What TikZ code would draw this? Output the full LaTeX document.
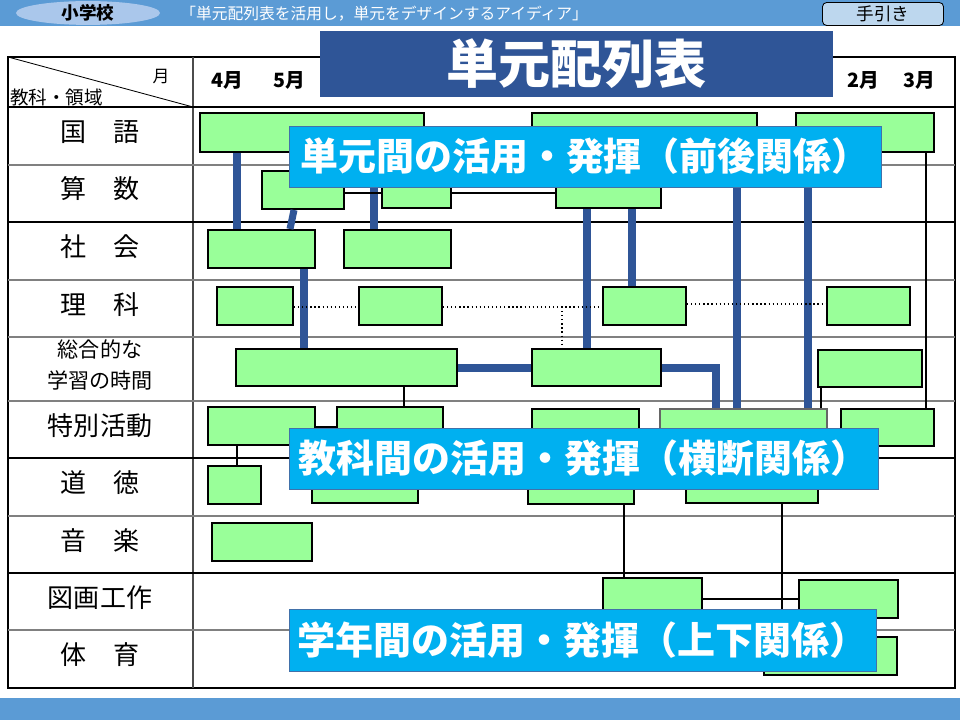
\documentclass[tikz,border=0pt]{standalone}
\usepackage{fontspec}
\setmainfont{Noto Sans CJK JP}
\usetikzlibrary{fit,shapes.geometric}

\definecolor{hdrblue}{RGB}{91,155,213}
\definecolor{ovalblue}{RGB}{170,199,235}
\definecolor{btnblue}{RGB}{189,215,238}
\definecolor{titleblue}{RGB}{47,85,151}
\definecolor{bannercyan}{RGB}{0,176,240}
\definecolor{bannerrim}{RGB}{65,113,170}
\definecolor{unitgreen}{RGB}{153,255,153}
\definecolor{gridgray}{RGB}{128,128,128}

\newcommand{\fsz}[1]{\fontsize{#1}{#1}\selectfont}

\begin{document}
\begin{tikzpicture}[
    x=0.025cm, y=-0.025cm,
    unit/.style={draw=black, line width=1.4pt, fill=unitgreen, inner sep=0pt},
    unitthin/.style={draw=black!60, line width=0.8pt, fill=unitgreen, inner sep=0pt},
    rowlab/.style={font=\fsz{18.5}, inner sep=0pt, align=center},
    month/.style={font=\fsz{14}\bfseries, inner sep=0pt},
    banner/.style={draw=bannerrim, line width=0.6pt, fill=bannercyan, text=white,
        inner sep=0pt, font=\fsz{27}\bfseries},
    blink/.style={draw=titleblue, line width=5pt},
    klink/.style={draw=black, line width=1.2pt},
    dlink/.style={draw=black, line width=0.9pt, dotted}
]
\useasboundingbox (0,0) rectangle (960,720);

%% ══════════════════════════════ HEADER ══════════════════════════════
\fill[hdrblue] (0,0) rectangle (960,26);
\fill[hdrblue] (0,698) rectangle (960,720);

\node[ellipse, fill=ovalblue, minimum width=3.6cm, minimum height=0.55cm,
      inner sep=0pt, font=\fsz{12.5}\bfseries] (school) at (88,13) {小学校};
\node[anchor=west, text=white, inner sep=0pt, font=\fsz{11.2}] (theme) at (180,14)
    {「単元配列表を活用し，単元をデザインするアイディア」};
\node[draw=black, fill=btnblue, rounded corners=3pt, line width=0.6pt,
      minimum width=3.025cm, minimum height=0.575cm, inner sep=0pt,
      font=\fsz{12.5}] (guide) at (883,14) {手引き};

%% ══════════════════════════════ TABLE ══════════════════════════════
\draw[black, line width=0.8pt] (8,57) rectangle (955,688);
\draw[black!70, line width=0.8pt] (193,57) -- (193,688);
\draw[black, line width=0.6pt] (8,57) -- (193,107);
\foreach \y/\c in {107/black, 165/gridgray, 222/black, 280/gridgray, 337/gridgray,
                   401/gridgray, 458/black, 516/gridgray, 573/black, 630/gridgray}
    \draw[draw=\c, line width=0.8pt] (8,\y) -- (955,\y);

\node[inner sep=0pt, font=\fsz{12}] (hmonth) at (161,77) {月};
\node[anchor=west, inner sep=0pt, font=\fsz{13.2}] (hsubj) at (10,97) {教科・領域};

\node[month] (m4) at (227,80) {4月};
\node[month] (m5) at (289,80) {5月};
\node[month] (m2) at (863,80) {2月};
\node[month] (m3) at (919,80) {3月};

%% Subject labels
\foreach \y/\t [count=\i] in {132/国　語, 189/算　数, 247/社　会, 305/理　科,
        426/特別活動, 483/道　徳, 541/音　楽, 598/図画工作, 655/体　育}
    \node[rowlab] (lab\i) at (100,\y) {\t};
\node[rowlab, font=\fontsize{15}{22}\selectfont] (labsogo) at (100,365)
    {総合的な\\学習の時間};

%% ══════════════════════════════ UNITS ══════════════════════════════
\foreach \n/\xa/\ya/\xb/\yb in {
        kok1/200/113/424/152, kok2/532/113/757/152, kok3/796/113/934/152,
        san1/262/171/344/209, san2/382/170/451/208, san3/556/170/661/208,
        sha1/208/230/315/268, sha2/344/230/451/268,
        rik1/217/287/293/325, rik2/359/287/442/325, rik3/603/287/686/325,
        rik4/827/287/910/325,
        sog1/236/349/457/386, sog2/532/349/661/386, sog3/818/350/922/387,
        tok1/208/407/315/445, tok2/337/407/443/445, tok3/532/409/639/446,
        tok5/841/409/934/446,
        dot1/208/466/261/504, dot2/312/466/418/503, dot3/528/466/634/504,
        dot4/686/466/818/503,
        ong1/212/523/312/561,
        zuk1/603/578/702/616, zuk2/799/580/898/618,
        tai1/764/637/897/675}
    \node[unit, fit={(\xa,\ya) (\xb,\yb)}] (\n) {};
\node[unitthin, fit={(660,409) (827,446)}] (tok4) {};

%% Thick links: within a subject, across the year
\draw[blink] (kok1.south -| 237,0) -- (sha1.north -| 237,0);
\draw[blink] (san1.south -| 294,0) -- (sha1.north -| 290,0);
\draw[blink] (kok1.south -| 374,0) -- (sha2.north -| 374,0);
\draw[blink] (sha1.south -| 304,0) -- (sog1.north -| 304,0);
\draw[blink] (san3.south -| 587,0) -- (sog2.north -| 587,0);
\draw[blink] (san3.south -| 632,0) -- (rik3.north -| 632,0);
\draw[blink] (kok2.south -| 737,0) -- (tok4.north -| 737,0);
\draw[blink] (kok3.south -| 808,0) -- (tok4.north -| 808,0);
\draw[blink] (sog1.east |- 0,368) -- (sog2.west |- 0,368);
\draw[blink] (sog2.east |- 0,368) -| (tok4.north -| 716,0);

%% Thin links
\draw[klink] (san1.east |- 0,193) -- (san2.west |- 0,193);
\draw[klink] (san2.east |- 0,193) -- (san3.west |- 0,193);
\draw[klink] (kok3.south -| 926,0) -- (tok5.north -| 926,0);
\draw[klink] (sog3.south -| 821,0) -- (tok4.north -| 821,0);
\draw[klink] (sog1.south -| 404,0) -- (tok2.north -| 404,0);
\draw[klink] (tok1.south -| 237,0) -- (dot1.north -| 237,0);
\draw[klink] (tok1.east |- 0,427) -- (tok2.west |- 0,427);
\draw[klink] (dot3.south -| 624,0) -- (zuk1.north -| 624,0);
\draw[klink] (dot4.south -| 782,0) -- (tai1.north -| 782,0);
\draw[klink] (zuk1.east |- 0,599) -- (zuk2.west |- 0,599);

%% Dotted links (理科)
\coordinate (rikjoin) at (562,307);
\draw[dlink] (rik1.east |- 0,307) -- (rik2.west |- 0,307);
\draw[dlink] (rik2.east |- 0,307) -- (rik3.west |- 0,307);
\draw[dlink] (rikjoin) -- (sog2.north -| rikjoin);
\draw[dlink] (rik3.east |- 0,304) -- (rik4.west |- 0,304);

%% ══════════════════════════════ TITLE + BANNERS ══════════════════════════════
\node[fill=titleblue, text=white, inner sep=0pt, fit={(320,31) (833,97)}] (titlebox) {};
\node[text=white, font=\fsz{37}\bfseries, inner sep=0pt] (title) at (titlebox.center) {単元配列表};

\node[banner, fit={(289,126) (881,187)}] (bn1) {};
\node[text=white, font=\fsz{27}\bfseries, inner sep=0pt] (bt1) at (bn1.center)
    {単元間の活用・発揮（前後関係）};
\node[banner, fit={(289,428) (878,489)}] (bn2) {};
\node[text=white, font=\fsz{27}\bfseries, inner sep=0pt] (bt2) at (bn2.center)
    {教科間の活用・発揮（横断関係）};
\node[banner, fit={(289,609) (876,671)}] (bn3) {};
\node[text=white, font=\fsz{27}\bfseries, inner sep=0pt] (bt3) at (bn3.center)
    {学年間の活用・発揮（上下関係）};

\end{tikzpicture}
\end{document}
